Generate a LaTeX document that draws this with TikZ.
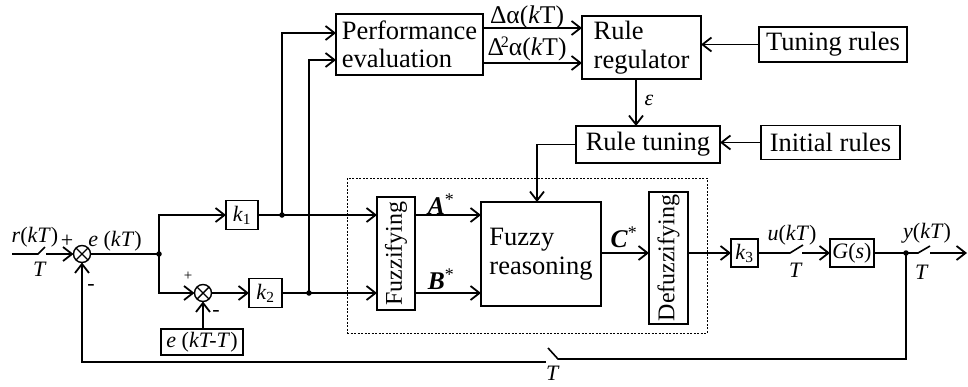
\documentclass[tikz,border=0pt]{standalone}
\usepackage{fontspec}
\setmainfont{Liberation Serif}
\usetikzlibrary{arrows.meta}
\begin{document}
\begin{tikzpicture}[x=1pt,y=-1pt,
 every node/.style={inner sep=0pt,outer sep=0pt},
 box/.style={draw,line width=1.4pt,font=\fontsize{26.5}{28.5}\selectfont},
 rbox/.style={draw,line width=1.4pt,font=\fontsize{24}{26}\selectfont},
 sbox/.style={draw,line width=1.4pt,font=\fontsize{22}{24}\selectfont},
 lab/.style={font=\fontsize{22}{24}\selectfont},
 blab/.style={font=\fontsize{25.5}{27}\selectfont},
 sumnode/.style={circle,draw,line width=1.4pt,minimum size=17pt},
 wire/.style={line width=1.6pt},
 arr/.style={wire,-{Straight Barb[length=9pt,width=14pt,line width=1.8pt]}},
 dot/.style={circle,fill,minimum size=5.5pt}
 ]
\useasboundingbox (0,0) rectangle (968,386);

% boxes
\node[box,minimum width=147pt,minimum height=61pt,align=left] (perf) at (409.5,44.5) {Performance\\evaluation};
\node[box,minimum width=119pt,minimum height=63pt,align=left] (rreg) at (641.5,47.5) {Rule\\regulator};
\node[box,minimum width=148pt,minimum height=35pt] (tune) at (833,44.5) {Tuning rules};
\node[box,minimum width=144pt,minimum height=37pt] (rtun) at (648,144.5) {Rule tuning};
\node[box,minimum width=139pt,minimum height=34pt] (init) at (830.5,142.5) {Initial rules};
\node[draw,line width=0.7pt,dash pattern=on 2pt off 1.5pt,minimum width=360pt,minimum height=155pt] (fz) at (527,255.5) {};
\node[rbox,minimum width=38pt,minimum height=113pt] (fuzzi) at (396,253.5) {\rotatebox{90}{Fuzzifying}};
\node[box,minimum width=120pt,minimum height=104pt,align=left] (freas) at (541,254) {Fuzzy\\reasoning};
\node[rbox,minimum width=39pt,minimum height=132pt] (defuz) at (668.5,258) {\rotatebox{90}{Defuzzifying}};
\node[sbox,minimum width=27pt,minimum height=28pt] (k3) at (744.5,253) {\textit{k}\textsubscript{3}};
\node[sbox,minimum width=44pt,minimum height=28pt] (G) at (852,253) {\textit{G}(\textit{s})};
\node[sbox,minimum width=32pt,minimum height=29pt] (k1) at (242,215) {\textit{k}\textsubscript{1}};
\node[sbox,minimum width=33pt,minimum height=29pt] (k2) at (265.5,293) {\textit{k}\textsubscript{2}};
\node[sbox,minimum width=82pt,minimum height=26pt] (ekt) at (202,342) {\textit{e} (\textit{kT-T})};
\node[sumnode] (s1) at (82,254) {};
\node[sumnode] (s2) at (203,293) {};
\foreach \s in {s1,s2}{
 \draw[line width=1.4pt] (\s.north east) -- (\s.south west) (\s.north west) -- (\s.south east);
}

% input switch
\coordinate (rin) at (12,254);
\coordinate (rsw) at (38,254);
\coordinate (rbl) at (45,247);
\coordinate (rout) at (46,254);
\draw[wire] (rin) -- (rsw) -- (rbl);
\draw[arr] (rout) -- (s1.west);

% branch
\coordinate (b1) at (159,254);
\draw[wire] (s1.east) -- (b1);
\node[dot] (b1d) at (b1) {};
\draw[arr] (b1) |- (k1.west);
\draw[arr] (b1) |- (s2.west);
\draw[arr] (ekt.north -| s2.south) -- (s2.south);
\draw[arr] (s2.east) -- (k2.west);

% to fuzzifying
\draw[arr] (k1.east) -- (fuzzi.west |- k1.east);
\draw[arr] (k2.east) -- (fuzzi.west |- k2.east);
\coordinate (d1) at (282,215);
\coordinate (d2) at (309,293);
\node[dot] (d1d) at (d1) {};
\node[dot] (d2d) at (d2) {};
\draw[arr] (d1) |- ([yshift=11.5pt]perf.west);
\draw[arr] (d2) |- ([yshift=-15.5pt]perf.west);

% performance -> regulator
\draw[arr] ([yshift=16.5pt]perf.east) coordinate (pa) -- (rreg.west |- pa);
\draw[arr] ([yshift=-18.5pt]perf.east) coordinate (pb) -- (rreg.west |- pb);
\node[blab] (da1) at (527,17) {Δα(\textit{k}T)};
\node[blab] (da2) at (527,49) {Δ\kern-3pt\raisebox{8pt}{\fontsize{16}{16}\selectfont 2}α(\textit{k}T)};

\draw[arr] (tune.west) -- (rreg.east |- tune.west);
\draw[arr] ([xshift=-5.5pt]rreg.south) coordinate (e1) -- (e1 |- rtun.north);
\node[lab] (eps) at (649,100) {\textit{ε}};
\draw[arr] (init.west) -- (rtun.east |- init.west);
\draw[arr] (rtun.west) -| ([xshift=-4pt]freas.north);

% fuzzy chain
\draw[arr] (fuzzi.east |- k1.east) -- (freas.west |- k1.east);
\draw[arr] (fuzzi.east |- k2.east) -- (freas.west |- k2.east);
\node[blab] (As) at (441,204) {\textbf{\textit{A}}\textsuperscript{*}};
\node[blab] (Bs) at (441,279) {\textbf{\textit{B}}\textsuperscript{*}};
\draw[arr] (freas.east |- k3.west) -- (defuz.west |- k3.west);
\node[blab,anchor=south] (Cs) at (624,248) {\textbf{\textit{C}}\textsuperscript{*}};
\draw[arr] (defuz.east |- k3.west) -- (k3.west);

% output
\coordinate (usw) at (790,253);
\coordinate (ubl) at (803,245);
\coordinate (uout) at (802,253);
\draw[wire] (k3.east) -- (usw) -- (ubl);
\draw[arr] (uout) -- (G.west);
\coordinate (yd) at (906,253);
\coordinate (ysw) at (918,253);
\coordinate (ybl) at (930,246);
\coordinate (yout) at (930,253);
\coordinate (yend) at (967,253);
\draw[wire] (G.east) -- (yd) -- (ysw) -- (ybl);
\node[dot] (ydd) at (yd) {};
\draw[arr] (yout) -- (yend);

% feedback
\coordinate (fb1) at (906,359);
\coordinate (fb2) at (558,359);
\coordinate (fb3) at (548,348);
\coordinate (fb4) at (546,362);
\draw[wire] (yd) -- (fb1) -- (fb2) -- (fb3);
\draw[arr] (fb4) -| (s1.south);

% labels
\node[lab] (lr) at (35,237) {\textit{r}(\textit{kT})};
\node[lab] (lT1) at (40,269) {\textit{T}};
\node[lab] (lp1) at (67,241) {+};
\node[lab] (le) at (115,241) {\textit{e} (\textit{kT})};
\node[lab] (lm1) at (91,287) {-};
\node[font=\fontsize{15}{15}\selectfont] (lp2) at (188,276) {+};
\node[lab] (lm2) at (216,313) {-};
\node[lab] (lu) at (792,235) {\textit{u}(\textit{kT})};
\node[lab] (lT2) at (796,270) {\textit{T}};
\node[lab] (ly) at (927,233) {\textit{y}(\textit{kT})};
\node[lab] (lT3) at (922,272) {\textit{T}};
\node[lab] (lT4) at (553,373) {\textit{T}};
\end{tikzpicture}
\end{document}
